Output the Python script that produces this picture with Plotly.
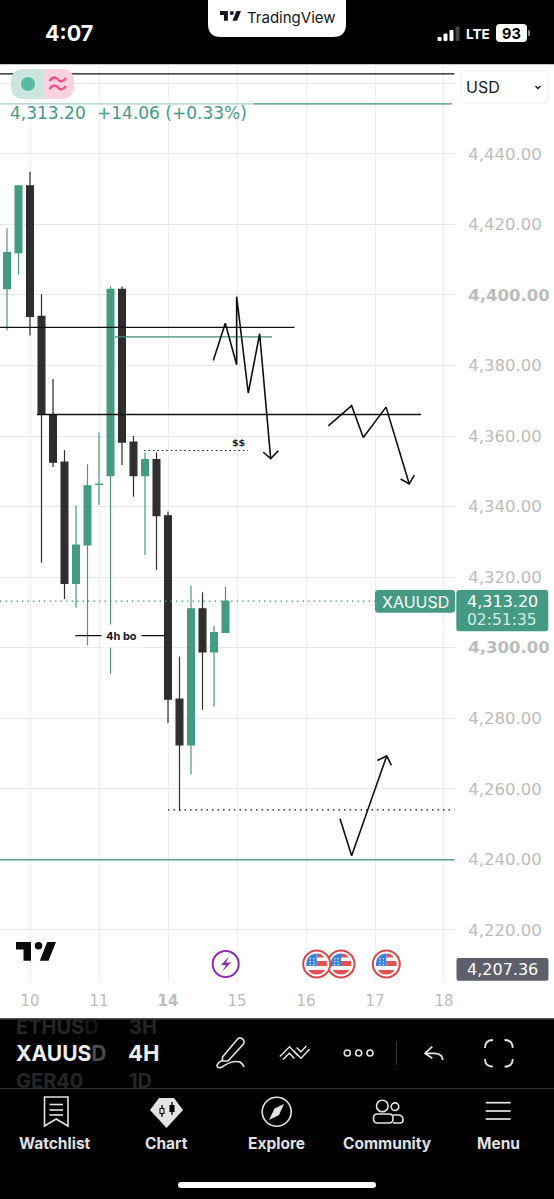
import plotly.graph_objects as go

# ---- data ----
idx = list(range(20))
opens = [4401.8, 4412.0, 4430.9, 4393.9, 4366.1, 4352.6, 4318.2, 4329.1, 4346.3, 4348.8,
         4401.6, 4358.3, 4348.8, 4353.3, 4337.4, 4285.4, 4272.4, 4311.0, 4298.8, 4304.3]
closes = [4412.0, 4430.9, 4393.9, 4366.1, 4352.6, 4318.2, 4329.1, 4345.9, 4346.4, 4401.6,
          4358.3, 4348.8, 4353.3, 4337.4, 4285.4, 4272.4, 4311.0, 4298.8, 4304.3, 4313.2]
highs = [4418.9, 4431.2, 4434.9, 4400.2, 4376.2, 4356.0, 4340.4, 4352.0, 4361.0, 4402.5,
         4402.3, 4360.0, 4355.3, 4355.3, 4338.6, 4297.5, 4317.6, 4315.7, 4306.2, 4317.3]
lows = [4389.9, 4405.8, 4388.5, 4324.1, 4351.2, 4313.8, 4311.4, 4300.7, 4340.5, 4292.6,
        4351.8, 4342.8, 4326.3, 4322.1, 4278.6, 4253.7, 4264.1, 4282.4, 4283.3, 4304.3]

price_ticks = [4460, 4440, 4420, 4400, 4380, 4360, 4340, 4320, 4300, 4280, 4260, 4240, 4220]
price_text = ["", "4,440.00", "4,420.00", "<b>4,400.00</b>", "4,380.00", "4,360.00", "4,340.00",
              "4,320.00", "<b>4,300.00</b>", "4,280.00", "4,260.00", "4,240.00", "4,220.00"]
day_ticks = [2, 8, 14, 20, 26, 32, 38]
day_text = ["10", "11", "<b>14</b>", "15", "16", "17", "18"]

x_range = [-0.609, 38.957]
y_range = [4205.2, 4465.2]

wave1_x = [17.94, 18.98, 19.97, 19.97, 20.98, 21.97, 22.93]
wave1_y = [4381.4, 4392.0, 4380.2, 4399.5, 4372.2, 4389.0, 4353.6]
head1_x = [22.29, 22.93, 23.59]
head1_y = [4355.4, 4353.6, 4355.8]
wave2_x = [27.94, 29.97, 30.98, 32.96, 34.98]
wave2_y = [4362.9, 4368.6, 4359.6, 4368.2, 4346.4]
head2_x = [34.23, 34.98, 35.42]
head2_y = [4347.8, 4346.4, 4348.9]
wave3_x = [28.96, 29.97, 33.02]
wave3_y = [4251.5, 4241.0, 4269.3]
head3_x = [32.2, 33.02, 33.42]
head3_y = [4268.0, 4269.3, 4266.7]

GREEN = "#459a84"
DARK = "#2e2e2e"

fig = go.Figure()
fig.add_trace(go.Candlestick(
    x=idx, open=opens, high=highs, low=lows, close=closes, whiskerwidth=0,
    increasing=dict(line=dict(color=GREEN, width=1.2), fillcolor=GREEN),
    decreasing=dict(line=dict(color=DARK, width=1.2), fillcolor=DARK),
    hoverinfo="skip", showlegend=False))


def hline(x0, x1, p, color="#111111", width=1.3, dash=None):
    fig.add_trace(go.Scatter(x=[x0, x1], y=[p, p], mode="lines", hoverinfo="skip", showlegend=False,
                             line=dict(color=color, width=width, dash=dash)))


def pline(xs, ys):
    fig.add_trace(go.Scatter(x=xs, y=ys, mode="lines", hoverinfo="skip", showlegend=False,
                             line=dict(color="#111111", width=1.6)))


hline(x_range[0], 38.9, 4462.7, "#111111", 1.3)
hline(x_range[0], 38.7, 4454.2, "#3f8f7a", 1.3)
hline(x_range[0], 25.0, 4390.8)
hline(9.39, 23.04, 4388.1, "#3f8f7a", 1.2)
hline(2.6, 36.0, 4366.1)
hline(11.9, 20.96, 4355.9, "#222222", 1.2, "1.5px,3px")
hline(x_range[0], 32.4, 4313.2, GREEN, 1.2, "1.5px,4px")
hline(14.0, 38.9, 4254.0, "#111111", 1.4, "1.5px,4px")
hline(x_range[0], 38.9, 4239.8, "#3f8f7a", 1.3)
hline(5.95, 13.7, 4303.4, "#111111", 1.3)
for xs, ys in [(wave1_x, wave1_y), (head1_x, head1_y), (wave2_x, wave2_y),
               (head2_x, head2_y), (wave3_x, wave3_y), (head3_x, head3_y)]:
    pline(xs, ys)
fig.add_trace(go.Scatter(x=[0], y=[0], xaxis="x2", yaxis="y2", mode="markers",
                         marker=dict(opacity=0), hoverinfo="skip", showlegend=False))

shapes = []
annos = []
FONT = "Inter, Roboto, sans-serif"
NUM = "DejaVu Sans, sans-serif"


def rect(x0, y0, x1, y1, fill, line=None, lw=0, op=1):
    shapes.append(dict(type="rect", xref="x2", yref="y2", x0=x0, y0=y0, x1=x1, y1=y1, fillcolor=fill,
                       opacity=op, line=dict(color=line or fill, width=lw), layer="above"))


def circ(cx, cy, r, fill="rgba(0,0,0,0)", line=None, lw=0):
    shapes.append(dict(type="circle", xref="x2", yref="y2", x0=cx - r, x1=cx + r, y0=cy - r, y1=cy + r,
                       fillcolor=fill, line=dict(color=line or "rgba(0,0,0,0)", width=lw), layer="above"))


def path(d, line="rgba(0,0,0,0)", lw=1.5, fill="rgba(0,0,0,0)"):
    shapes.append(dict(type="path", xref="x2", yref="y2", path=d, fillcolor=fill,
                       line=dict(color=line, width=lw), layer="above"))


def rr(x0, y0, x1, y1, r, r_top=True, r_bot=True):
    rt = r if r_top else 0
    rb = r if r_bot else 0
    return (f"M{x0 + rt},{y0} L{x1 - rt},{y0} Q{x1},{y0} {x1},{y0 + rt} L{x1},{y1 - rb} Q{x1},{y1} {x1 - rb},{y1} "
            f"L{x0 + rb},{y1} Q{x0},{y1} {x0},{y1 - rb} L{x0},{y0 + rt} Q{x0},{y0} {x0 + rt},{y0} Z")


def text(x, y, s, size, color, anchor="center", bold=False, bg=None, family=FONT, pad=0):
    annos.append(dict(xref="x2", yref="y2", x=x - 2 if anchor == "left" else x, y=y,
                      text=f"<b>{s}</b>" if bold else s, showarrow=False,
                      xanchor=anchor, yanchor="middle", bgcolor=bg, borderpad=pad,
                      font=dict(family=family, size=size, color=color)))


def tvlogo(x, y, w, color):
    k = w / 32.0

    def P(a, b):
        return f"{x + (a - 2) * k},{y + (b - 6) * k}"
    path("M" + " L".join(P(a, b) for a, b in [(2, 6), (14, 6), (14, 21), (8, 21), (8, 12), (2, 12)]) + " Z",
         fill=color, lw=0)
    path("M" + " L".join(P(a, b) for a, b in [(27, 6), (34, 6), (28, 21), (21, 21)]) + " Z", fill=color, lw=0)
    circ(x + 18 * k, y + 3 * k, 3 * k, fill=color)


# top bar
rect(0, 0, 554, 64, "#000000")
rect(0, 64, 554, 65, "#c8c8c8")
path(rr(208, -20, 346, 37, 13), fill="#ffffff", lw=0)
tvlogo(220, 11, 21, "#131722")
text(291, 17, "TradingView", 15, "#131722")
text(69, 33, "4:07", 21.5, "#ffffff", bold=True)
for bx, bt, c in [(437.5, 37, "#fff"), (443.5, 33.5, "#fff"), (449.5, 30, "#fff"), (455.5, 26.5, "#444")]:
    path(rr(bx, bt, bx + 4, 41, 1), fill=c, lw=0)
text(478, 33.5, "LTE", 13.5, "#ffffff", bold=True)
path(rr(496, 24, 527, 42, 4), fill="#ffffff", lw=0)
text(511.5, 33.5, "93", 14.5, "#000000", bold=True)
path(rr(528, 30, 530, 36, 1), fill="#888", lw=0)

# legend
rect(0, 100, 254, 122, "#ffffff", op=0.55)
path(rr(11, 69, 74, 99, 13), fill="#fbd2df", lw=0)
path(f"M24,69 L43,69 L43,99 L24,99 Q11,99 11,84 Q11,69 24,69 Z", fill="#cbe6df", lw=0)
circ(28, 84, 7, fill="#5cb8a3")
for wy in (81, 89):
    path(f"M49.5,{wy} C53,{wy - 5} 56,{wy - 4} 58,{wy - 1.5} C60,{wy + 1} 63,{wy + 1} 66,{wy - 3}",
         line="#ef5285", lw=2.4)
text(11, 113, "4,313.20", 17, GREEN, anchor="left", family=NUM)
text(98, 113, "+14.06 (+0.33%)", 17, GREEN, anchor="left", family=NUM)

# USD selector
path(rr(461, 71, 548, 103, 5), fill="#ffffff", line="#efeff2", lw=1)
text(466.5, 87, "USD", 16, "#131722", anchor="left")
path("M535.5,86 L538,88.5 L540.5,86", line="#131722", lw=1.4)

# price labels
path(rr(375, 590, 455, 612.7, 3), fill=GREEN, lw=0)
text(415, 601.5, "XAUUSD", 16, "#ffffff")
path(rr(456.3, 590, 548.3, 631.3, 3), fill=GREEN, lw=0)
text(502, 601, "4,313.20", 16, "#ffffff", family=NUM)
text(502, 620, "02:51:35", 15.5, "#d3ebe4", family=NUM)
path(rr(456.5, 958, 548.4, 980.7, 2), fill="#5d606b", lw=0)
text(502, 969, "4,207.36", 16, "#ffffff", family=NUM)

# chart notes
text(238, 442, "$$", 9.5, "#222222", bold=True, family=NUM)
text(121.5, 635.7, "4h bo", 11, "#131722", bold=True, bg="#ffffff", pad=4)

# logo
tvlogo(16, 942, 40, "#0b0b0b")

# events
circ(225.7, 964, 13, fill="#ffffff", line="#8e2bb0", lw=2)
path("M229,956.5 L221,965 L226,965 L222,972 L231,962.5 L226,962.5 Z", fill="#8e2bb0", lw=0)


def flag(cx):
    cy = 964
    circ(cx, cy, 13.5, fill="#ffffff", line="#d84a4a", lw=2)
    path(f"M{cx},{cy - 10.5} L{cx + 4},{cy - 10} L{cx + 8},{cy - 6.5} L{cx},{cy - 6.5} Z", fill="#e05252", lw=0)
    path(f"M{cx},{cy - 3} L{cx + 10},{cy - 3} L{cx + 10.5},{cy + 2} L{cx},{cy + 2} Z", fill="#e05252", lw=0)
    path(f"M{cx - 8.5},{cy + 6} L{cx + 8.5},{cy + 6} Q{cx + 5},{cy + 10.5} {cx},{cy + 10.5} "
         f"Q{cx - 5},{cy + 10.5} {cx - 8.5},{cy + 6} Z", fill="#e05252", lw=0)
    path(f"M{cx},{cy - 10.5} Q{cx - 10.5},{cy - 10} {cx - 10.5},{cy + 2} L{cx},{cy + 2} Z", fill="#3b82e0", lw=0)
    for dx in (-7, -3.5):
        for dy in (-6, -3, 0):
            rect(cx + dx, cy + dy, cx + dx + 1.2, cy + dy + 1.2, "#ffffff")


flag(341)
flag(316.7)
flag(386.3)

# bottom panel
rect(0, 1019, 554, 1199, "#000000")
rect(0, 1018, 554, 1019.5, "#555555")
rect(0, 1088, 554, 1089, "#333333")
DIM = "#262626"
FADE = '<span style="color:#161616">D</span>'
text(17, 1026.5, "ETHUS" + FADE, 20, DIM, anchor="left", bold=True)
text(130, 1026.5, "3H", 20, DIM, anchor="left", bold=True)
text(17, 1081, "GER40", 20, DIM, anchor="left", bold=True)
text(130, 1081, "1D", 20, DIM, anchor="left", bold=True)
text(17, 1053, 'XAUUS<span style="color:#4a4a4a">D</span>', 21, "#eeeeee", anchor="left", bold=True)
text(129, 1053, "4H", 22, "#eeeeee", anchor="left", bold=True)

W = "#e4e4e4"
# pencil
path("M222.5,1057 L238,1038.5 Q240,1037 242,1038.5 L243.5,1040 Q245,1042 243.5,1044 L228,1061 L222.5,1061 Z",
     line=W, lw=1.6)
path("M223,1060 Q217,1063 217,1066 Q218,1069 222,1067 Q232,1060 240,1062 Q243,1064 244,1067", line=W, lw=1.6)
# zigzag tool
for d in ("M281.5,1058 L289.5,1050 L296,1057", "M295,1049 L301,1055 L308,1047.5"):
    path(d, line=W, lw=6)
for d in ("M281.5,1058 L289.5,1050 L296,1057", "M295,1049 L301,1055 L308,1047.5"):
    path(d, line="#000000", lw=3)
for cx in (347.3, 358.7, 370):
    circ(cx, 1053, 3, line=W, lw=1.6)
rect(396, 1041, 396.8, 1065, "#444444")
path("M432.3,1046.7 L425,1053.3 L432.3,1058.3 M425,1053.3 L435,1053.3 Q442.7,1054 442.7,1060", line=W, lw=1.7)
path("M485,1048 Q485,1040 493,1040 M504.5,1040 Q512.7,1040 512.7,1048 M512.7,1059 Q512.7,1066.7 504.5,1066.7 "
     "M493,1066.7 Q485,1066.7 485,1059", line=W, lw=1.8)

# nav icons
path("M44.5,1097 L68,1097 L68,1126 L56.2,1119 L44.5,1126 Z", line=W, lw=1.6)
for ly in (1104.5, 1110, 1115):
    path(f"M49.5,{ly} L63,{ly}", line=W, lw=1.6)
path("M159,1098 L174,1098 L183,1110 L166.5,1128 L150,1110 Z", fill=W, lw=0)
for cx, t, b in ((162, 1105, 1117), (172, 1102, 1115)):
    path(f"M{cx},{t} L{cx},{b}", line="#000000", lw=1.3)
    rect(cx - 2.5, t + 3, cx + 2.5, b - 3, "#000000")
rect(160.5, 1109, 163.5, 1113, W)
circ(276.7, 1111.7, 14.5, line=W, lw=1.6)
path("M284,1104 L279,1115 L269,1120 L274.5,1108.5 Z", fill=W, lw=0)
circ(382.3, 1106, 5.8, line=W, lw=1.6)
circ(395, 1106.7, 3.8, line=W, lw=1.6)
path(rr(373.5, 1114, 393, 1123, 4), line=W, lw=1.6)
path("M393,1115 L398,1115 Q403,1115 403,1120 Q403,1123 400,1123 L393,1123", line=W, lw=1.6)
for ly in (1102.7, 1111, 1119):
    path(f"M485.7,{ly} L510.7,{ly}", line=W, lw=1.7)
for cx, lab in ((55, "Watchlist"), (166, "Chart"), (276, "Explore"), (387, "Community"), (498, "Menu")):
    text(cx, 1143, lab, 15.5, "#e0e0e0", bold=True)
path(rr(178, 1182, 376, 1188, 3), fill="#ffffff", lw=0)

fig.update_layout(
    width=554, height=1199, margin=dict(l=0, r=0, t=0, b=0), autosize=False,
    paper_bgcolor="#ffffff", plot_bgcolor="rgba(0,0,0,0)", showlegend=False, hovermode=False,
    boxgap=0.15,
    xaxis=dict(domain=[0, 455 / 554], range=x_range, tickmode="array", tickvals=day_ticks, ticktext=day_text,
               showgrid=True, gridcolor="#eeeef1", gridwidth=1.2, zeroline=False, showline=False,
               ticks="outside", ticklen=5, tickcolor="rgba(0,0,0,0)", rangeslider=dict(visible=False),
               tickfont=dict(family=NUM, size=15, color="#bcbcbc"), fixedrange=True),
    yaxis=dict(domain=[1 - 982 / 1199, 1 - 65 / 1199], range=y_range, side="right", tickmode="array",
               tickvals=price_ticks, ticktext=price_text, showgrid=True, gridcolor="#e9e9ec", gridwidth=1.2,
               zeroline=False, showline=False, ticks="outside", ticklen=9, tickcolor="rgba(0,0,0,0)",
               tickfont=dict(family=NUM, size=16.5, color="#bcbcbc"), fixedrange=True),
    xaxis2=dict(domain=[0, 1], range=[0, 554], visible=False, anchor="y2", fixedrange=True),
    yaxis2=dict(domain=[0, 1], range=[1199, 0], visible=False, anchor="x2", fixedrange=True),
    shapes=shapes, annotations=annos,
)
fig.write_html("out.html", config={"displayModeBar": False},
               post_script="document.body.style.margin='0';document.documentElement.style.overflow='hidden';")
